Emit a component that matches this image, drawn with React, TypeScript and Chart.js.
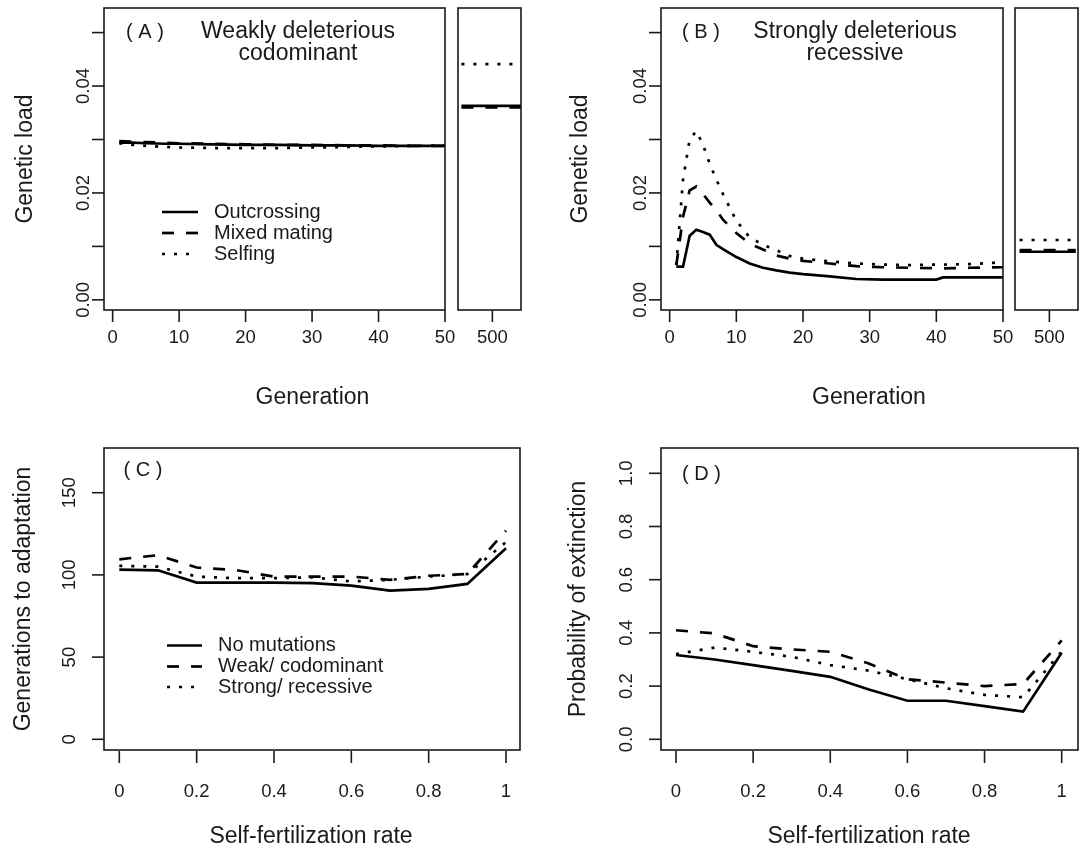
import React, { useEffect, useRef } from "react";
import { Chart, registerables } from "chart.js";

Chart.register(...registerables);

// ---------------- data ----------------
// Panel A: weakly deleterious codominant
const genA = [1, 3, 5, 8, 10, 15, 20, 25, 30, 35, 40, 45, 50];
const loadA_outcrossing = [0.0294, 0.0294, 0.0293, 0.0292, 0.0292, 0.0291, 0.029, 0.029, 0.0289, 0.0289, 0.0288, 0.0288, 0.0288];
const loadA_mixed = [0.0297, 0.0296, 0.0295, 0.0294, 0.0293, 0.0292, 0.0291, 0.029, 0.029, 0.0289, 0.0289, 0.0288, 0.0288];
const genA_selfing = [1, 3, 5, 8, 10, 15, 20, 25, 30, 35, 40, 45, 50, 51];
const loadA_selfing = [0.0293, 0.029, 0.0288, 0.0286, 0.0285, 0.0284, 0.0284, 0.0284, 0.0285, 0.0286, 0.0287, 0.0288, 0.0289, 0.0291];

// Panel B: strongly deleterious recessive
const genB = [1, 2, 3, 4, 5, 6, 7, 8, 10, 12, 14, 16, 18, 20, 24, 28, 32, 36, 40, 41, 45, 50];
const loadB_outcrossing = [0.0062, 0.0062, 0.012, 0.0131, 0.0127, 0.0122, 0.0103, 0.0095, 0.008, 0.0068, 0.006, 0.0055, 0.0051, 0.0048, 0.0044, 0.0039, 0.0038, 0.0038, 0.0038, 0.0042, 0.0042, 0.0042];
const loadB_mixed = [0.0065, 0.0155, 0.0205, 0.0212, 0.0198, 0.0182, 0.0168, 0.015, 0.0125, 0.0105, 0.0094, 0.0083, 0.0077, 0.0073, 0.0068, 0.0063, 0.0061, 0.006, 0.0059, 0.0059, 0.006, 0.0061];
const genB_selfing = [1, 2, 3, 4, 5, 6, 7, 8, 10, 12, 14, 16, 18, 20, 24, 28, 32, 36, 40, 41, 45, 50, 51];
const loadB_selfing = [0.0065, 0.0225, 0.03, 0.0316, 0.029, 0.0255, 0.0225, 0.0198, 0.0148, 0.0117, 0.0103, 0.0093, 0.0082, 0.0077, 0.0072, 0.0068, 0.0066, 0.0065, 0.0066, 0.0066, 0.0067, 0.007, 0.0073];

// Generation 500 insets
const genSideA = [473, 525];
const sideA_outcrossing = [0.0363, 0.0363];
const sideA_mixed = [0.036, 0.036];
const sideA_selfing = [0.0441, 0.0441];
const genSideB = [474, 523];
const sideB_outcrossing = [0.009, 0.009];
const sideB_mixed = [0.0093, 0.0093];
const sideB_selfing = [0.0112, 0.0112];

// Panels C and D
const selfRate = [0, 0.1, 0.2, 0.3, 0.4, 0.5, 0.6, 0.7, 0.8, 0.9, 1];
const adaptC_none = [103.2, 102.8, 95.3, 95.3, 95.3, 95.0, 93.5, 90.4, 91.5, 94.5, 116.2];
const adaptC_weak = [109.5, 112.0, 104.5, 103.0, 99.0, 99.0, 99.0, 97.0, 99.5, 100.5, 127.0];
const adaptC_strong = [105.5, 105.0, 99.0, 98.0, 98.0, 98.5, 96.0, 97.0, 99.0, 100.5, 120.0];
const extD_none = [0.317, 0.3, 0.279, 0.257, 0.235, 0.187, 0.145, 0.145, 0.125, 0.104, 0.325];
const extD_weak = [0.41, 0.398, 0.35, 0.338, 0.329, 0.285, 0.226, 0.213, 0.2, 0.208, 0.372];
const extD_strong = [0.32, 0.345, 0.329, 0.31, 0.279, 0.258, 0.226, 0.192, 0.167, 0.158, 0.33];

// ticks and labels
const genTicks = [0, 10, 20, 30, 40, 50];
const genTickLabels = ["0", "10", "20", "30", "40", "50"];
const sideTicks = [500];
const sideTickLabels = ["500"];
const loadTicks = [0, 0.01, 0.02, 0.03, 0.04, 0.05];
const loadTickLabels = ["0.00", "", "0.02", "", "0.04", ""];
const rateTicks = [0, 0.2, 0.4, 0.6, 0.8, 1];
const rateTickLabels = ["0", "0.2", "0.4", "0.6", "0.8", "1"];
const adaptTicks = [0, 50, 100, 150];
const adaptTickLabels = ["0", "50", "100", "150"];
const extTicks = [0, 0.2, 0.4, 0.6, 0.8, 1.0];
const extTickLabels = ["0.0", "0.2", "0.4", "0.6", "0.8", "1.0"];

const legendMating = ["Outcrossing", "Mixed mating", "Selfing"];
const legendMutation = ["No mutations", "Weak/ codominant", "Strong/ recessive"];

// ---------------- drawing helpers ----------------
const W = 1084;
const H = 852;
const FONT = '"Liberation Sans", Arial, Helvetica, sans-serif';
const INK = "#1a1a1a";
const LINE_W = 2.7;
type Style = "solid" | "dashed" | "dotted";
const DASH: Record<Style, number[]> = { solid: [], dashed: [12, 12], dotted: [3, 9] };
const STYLE_ORDER: Style[] = ["solid", "dashed", "dotted"];
const TICK_FS = 18.5;
const TITLE_FS = 23;
const LEGEND_FS = 20;
const PANEL_FS = 20;

type Series = { xs: number[]; ys: number[]; style: Style; noClip?: boolean };
type Spec = {
  box: [number, number, number, number];
  x: [number, number];
  y: [number, number];
  series: Series[];
  decorate: (ctx: CanvasRenderingContext2D, chart: any) => void;
};

function txt(ctx: CanvasRenderingContext2D, s: string, x: number, y: number, size: number, align: CanvasTextAlign = "center", rot = false) {
  ctx.save();
  ctx.fillStyle = INK;
  ctx.font = `${size}px ${FONT}`;
  ctx.textAlign = align;
  ctx.textBaseline = "middle";
  ctx.translate(x, y);
  if (rot) ctx.rotate(-Math.PI / 2);
  ctx.fillText(s, 0, 0);
  ctx.restore();
}

function frame(ctx: CanvasRenderingContext2D, chart: any) {
  const a = chart.chartArea;
  ctx.save();
  ctx.strokeStyle = INK;
  ctx.lineWidth = 1.6;
  ctx.setLineDash([]);
  ctx.strokeRect(a.left, a.top, a.right - a.left, a.bottom - a.top);
  ctx.restore();
}

function xAxis(ctx: CanvasRenderingContext2D, chart: any, vals: number[], labels: string[], labelY: number, gap: number) {
  const sx = chart.scales.x;
  const b = chart.chartArea.bottom;
  ctx.save();
  ctx.strokeStyle = INK;
  ctx.lineWidth = 1.6;
  ctx.setLineDash([]);
  vals.forEach((v, i) => {
    const px = sx.getPixelForValue(v);
    ctx.beginPath();
    ctx.moveTo(px, b + gap);
    ctx.lineTo(px, b + gap + 12);
    ctx.stroke();
    if (labels[i]) txt(ctx, labels[i], px, labelY, TICK_FS);
  });
  ctx.restore();
}

function yAxis(ctx: CanvasRenderingContext2D, chart: any, vals: number[], labels: string[], labelX: number) {
  const sy = chart.scales.y;
  const l = chart.chartArea.left;
  ctx.save();
  ctx.strokeStyle = INK;
  ctx.lineWidth = 1.6;
  ctx.setLineDash([]);
  vals.forEach((v, i) => {
    const py = sy.getPixelForValue(v);
    ctx.beginPath();
    ctx.moveTo(l - 12, py);
    ctx.lineTo(l, py);
    ctx.stroke();
    if (labels[i]) txt(ctx, labels[i], labelX, py, TICK_FS, "center", true);
  });
  ctx.restore();
}

function legend(ctx: CanvasRenderingContext2D, items: string[], x1: number, x2: number, tx: number, rows: number[]) {
  items.forEach((s, i) => {
    ctx.save();
    ctx.strokeStyle = "#000";
    ctx.lineWidth = LINE_W;
    ctx.setLineDash(DASH[STYLE_ORDER[i]]);
    ctx.beginPath();
    ctx.moveTo(x1, rows[i]);
    ctx.lineTo(x2, rows[i]);
    ctx.stroke();
    ctx.restore();
    txt(ctx, s, tx, rows[i], LEGEND_FS, "left");
  });
}

const LOAD_Y: [number, number] = [-0.0019, 0.0546];
const GEN_X: [number, number] = [-1.3, 50];
const SIDE_X: [number, number] = [470, 525];

const specs: Spec[] = [
  {
    box: [104, 8, 445, 310],
    x: GEN_X,
    y: LOAD_Y,
    series: [
      { xs: genA, ys: loadA_outcrossing, style: "solid" },
      { xs: genA, ys: loadA_mixed, style: "dashed" },
      { xs: genA_selfing, ys: loadA_selfing, style: "dotted", noClip: true },
    ],
    decorate: (ctx, c) => {
      frame(ctx, c);
      xAxis(ctx, c, genTicks, genTickLabels, 338, 0);
      yAxis(ctx, c, loadTicks, loadTickLabels, 84);
      txt(ctx, "Genetic load", 26, 159, TITLE_FS, "center", true);
      txt(ctx, "Generation", 312.5, 398, TITLE_FS);
      txt(ctx, "( A )", 145, 32, PANEL_FS);
      txt(ctx, "Weakly deleterious", 298, 32, TITLE_FS);
      txt(ctx, "codominant", 298, 54, TITLE_FS);
      legend(ctx, legendMating, 162, 198, 214, [212, 233, 254]);
    },
  },
  {
    box: [458, 8, 521, 310],
    x: SIDE_X,
    y: LOAD_Y,
    series: [
      { xs: genSideA, ys: sideA_outcrossing, style: "solid" },
      { xs: genSideA, ys: sideA_mixed, style: "dashed" },
      { xs: genSideA, ys: sideA_selfing, style: "dotted" },
    ],
    decorate: (ctx, c) => {
      frame(ctx, c);
      xAxis(ctx, c, sideTicks, sideTickLabels, 338, 0);
    },
  },
  {
    box: [661, 8, 1003, 310],
    x: GEN_X,
    y: LOAD_Y,
    series: [
      { xs: genB, ys: loadB_outcrossing, style: "solid" },
      { xs: genB, ys: loadB_mixed, style: "dashed" },
      { xs: genB_selfing, ys: loadB_selfing, style: "dotted", noClip: true },
    ],
    decorate: (ctx, c) => {
      frame(ctx, c);
      xAxis(ctx, c, genTicks, genTickLabels, 338, 0);
      yAxis(ctx, c, loadTicks, loadTickLabels, 641);
      txt(ctx, "Genetic load", 581, 159, TITLE_FS, "center", true);
      txt(ctx, "Generation", 869, 398, TITLE_FS);
      txt(ctx, "( B )", 701, 32, PANEL_FS);
      txt(ctx, "Strongly deleterious", 855, 32, TITLE_FS);
      txt(ctx, "recessive", 855, 54, TITLE_FS);
    },
  },
  {
    box: [1015, 8, 1078, 310],
    x: SIDE_X,
    y: LOAD_Y,
    series: [
      { xs: genSideB, ys: sideB_outcrossing, style: "solid" },
      { xs: genSideB, ys: sideB_mixed, style: "dashed" },
      { xs: genSideB, ys: sideB_selfing, style: "dotted" },
    ],
    decorate: (ctx, c) => {
      frame(ctx, c);
      xAxis(ctx, c, sideTicks, sideTickLabels, 338, 0);
    },
  },
  {
    box: [104, 448, 520, 750],
    x: [-0.0396, 1.0362],
    y: [-6.51, 177.2],
    series: [
      { xs: selfRate, ys: adaptC_none, style: "solid" },
      { xs: selfRate, ys: adaptC_weak, style: "dashed" },
      { xs: selfRate, ys: adaptC_strong, style: "dotted" },
    ],
    decorate: (ctx, c) => {
      frame(ctx, c);
      xAxis(ctx, c, rateTicks, rateTickLabels, 792, 1);
      yAxis(ctx, c, adaptTicks, adaptTickLabels, 70);
      txt(ctx, "Generations to adaptation", 23.5, 599, TITLE_FS, "center", true);
      txt(ctx, "Self-fertilization rate", 311, 837, TITLE_FS);
      txt(ctx, "( C )", 143, 470, PANEL_FS);
      legend(ctx, legendMutation, 167, 202, 218, [645.5, 666.5, 687]);
    },
  },
  {
    box: [661, 448, 1078, 750],
    x: [-0.0389, 1.0423],
    y: [-0.0402, 1.0951],
    series: [
      { xs: selfRate, ys: extD_none, style: "solid" },
      { xs: selfRate, ys: extD_weak, style: "dashed" },
      { xs: selfRate, ys: extD_strong, style: "dotted" },
    ],
    decorate: (ctx, c) => {
      frame(ctx, c);
      xAxis(ctx, c, rateTicks, rateTickLabels, 792, 1);
      yAxis(ctx, c, extTicks, extTickLabels, 627);
      txt(ctx, "Probability of extinction", 578.5, 599, TITLE_FS, "center", true);
      txt(ctx, "Self-fertilization rate", 869, 837, TITLE_FS);
      txt(ctx, "( D )", 701.5, 474, PANEL_FS);
    },
  },
];

function Panel({ spec }: { spec: Spec }) {
  const ref = useRef<HTMLCanvasElement>(null);
  useEffect(() => {
    const [l, t, r, b] = spec.box;
    const chart = new Chart(ref.current as HTMLCanvasElement, {
      type: "line",
      data: {
        datasets: spec.series.map((s, i) => {
          const ds: any = {
            label: "s" + i,
            data: s.xs.map((x, j) => ({ x, y: s.ys[j] })),
            borderColor: "#000",
            borderWidth: LINE_W,
            borderDash: DASH[s.style],
            borderCapStyle: "butt",
            pointRadius: 0,
            fill: false,
            tension: 0,
          };
          if (s.noClip) ds.clip = false;
          return ds;
        }),
      },
      options: {
        responsive: false,
        maintainAspectRatio: false,
        animation: false,
        devicePixelRatio: 1,
        events: [],
        layout: { padding: { left: l, top: t, right: W - r, bottom: H - b } },
        plugins: { legend: { display: false }, tooltip: { enabled: false }, title: { display: false } },
        scales: {
          x: { type: "linear", min: spec.x[0], max: spec.x[1], display: false },
          y: { type: "linear", min: spec.y[0], max: spec.y[1], display: false },
        },
      },
      plugins: [
        {
          id: "rdecor",
          afterDraw: (c: any) => spec.decorate(c.ctx, c),
        },
      ],
    } as any);
    return () => chart.destroy();
  }, [spec]);
  return <canvas ref={ref} width={W} height={H} style={{ position: "absolute", left: 0, top: 0 }} />;
}

export default function App() {
  return (
    <div style={{ position: "absolute", left: 0, top: 0, width: W, height: H, background: "#fff" }}>
      {specs.map((s, i) => (
        <Panel key={i} spec={s} />
      ))}
    </div>
  );
}
